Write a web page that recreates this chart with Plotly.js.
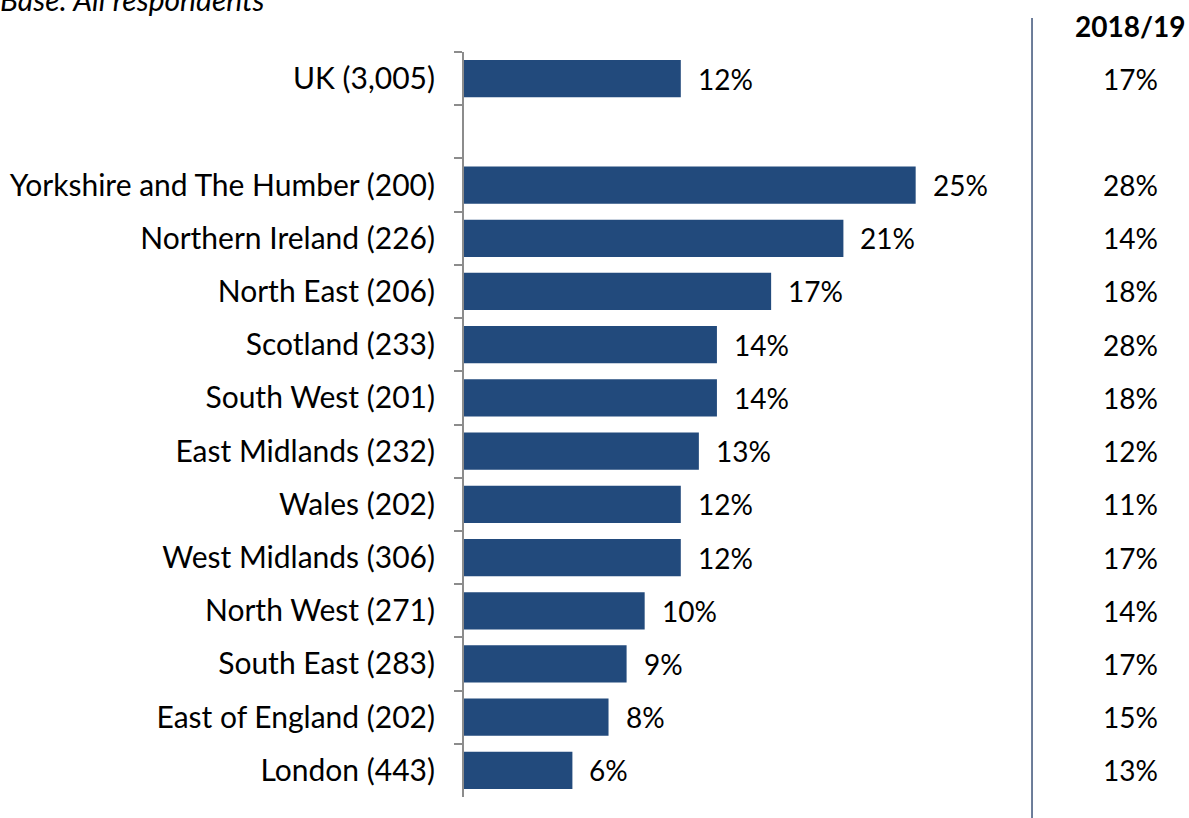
<!DOCTYPE html>
<html><head><meta charset="utf-8">
<script src="https://cdn.plot.ly/plotly-3.0.1.min.js"></script>
<style>html,body{margin:0;padding:0;background:#fff;}#chart{width:1189px;height:818px;}</style>
</head><body><div id="chart"></div>
<script>
const categories = ["UK (3,005)", " ", "Yorkshire and The Humber (200)", "Northern Ireland (226)", "North East (206)", "Scotland (233)", "South West (201)", "East Midlands (232)", "Wales (202)", "West Midlands (306)", "North West (271)", "South East (283)", "East of England (202)", "London (443)"];
const values2020 = [12, null, 25, 21, 17, 14, 14, 13, 12, 12, 10, 9, 8, 6];
const values201819 = [17, null, 28, 14, 18, 28, 18, 12, 11, 17, 14, 17, 15, 13];
const compareHeader = "2018/19";
const baseNote = "Base: All respondents";

const FONT = "Lato, 'Open Sans', sans-serif";
const barColor = "#224A7C";
const NUMSIZE = 28;

const annotations = [];
categories.forEach((c, i) => {
  if (values2020[i] !== null) {
    annotations.push({x: values2020[i], y: c, xref: 'x', yref: 'y', text: values2020[i] + '%',
      showarrow: false, xanchor: 'left', xshift: 15, font: {family: FONT, size: NUMSIZE, color: '#000'}});
  }
  if (values201819[i] !== null) {
    annotations.push({x: 1.2306, y: c, xref: 'paper', yref: 'y', text: values201819[i] + '%',
      showarrow: false, xanchor: 'center', font: {family: FONT, size: NUMSIZE, color: '#000'}});
  }
});
annotations.push({x: 1.2306, y: 1, xref: 'paper', yref: 'paper', yshift: 26, yanchor: 'middle', text: '<b>' + compareHeader + '</b>',
  showarrow: false, xanchor: 'center', font: {family: FONT, size: NUMSIZE, color: '#000'}});
annotations.push({x: 0, y: 1, xref: 'paper', yref: 'paper', xshift: -466, yshift: 53, xanchor: 'left', yanchor: 'middle',
  text: '<i>' + baseNote + '</i>', showarrow: false, font: {family: FONT, size: 30, color: '#000'}});

const trace = {
  type: 'bar', orientation: 'h', y: categories, x: values2020,
  marker: {color: barColor}, width: 0.7, hoverinfo: 'none'
};

const layout = {
  width: 1189, height: 818,
  margin: {l: 464, r: 183, t: 52, b: 21, pad: 0},
  paper_bgcolor: '#fff', plot_bgcolor: '#fff',
  showlegend: false,
  xaxis: {range: [0, 30], visible: false, fixedrange: true},
  yaxis: {type: 'category', categoryorder: 'array', categoryarray: categories, autorange: 'reversed',
    showline: true, linecolor: '#8c8c8c', linewidth: 2, ticks: 'outside', ticklen: 8, tickcolor: '#8c8c8c', tickwidth: 2,
    tickson: 'boundaries', showgrid: false, zeroline: false, ticklabelstandoff: 21,
    tickfont: {family: FONT, size: 30, color: '#000'}},
  annotations: annotations,
  shapes: [{type: 'line', xref: 'paper', yref: 'paper', x0: 1.048, x1: 1.048, y0: -0.03, y1: 1.0456,
    line: {color: '#1F3864', width: 1.3}}]
};
Plotly.newPlot('chart', [trace], layout, {displayModeBar: false, staticPlot: true});
</script></body></html>
